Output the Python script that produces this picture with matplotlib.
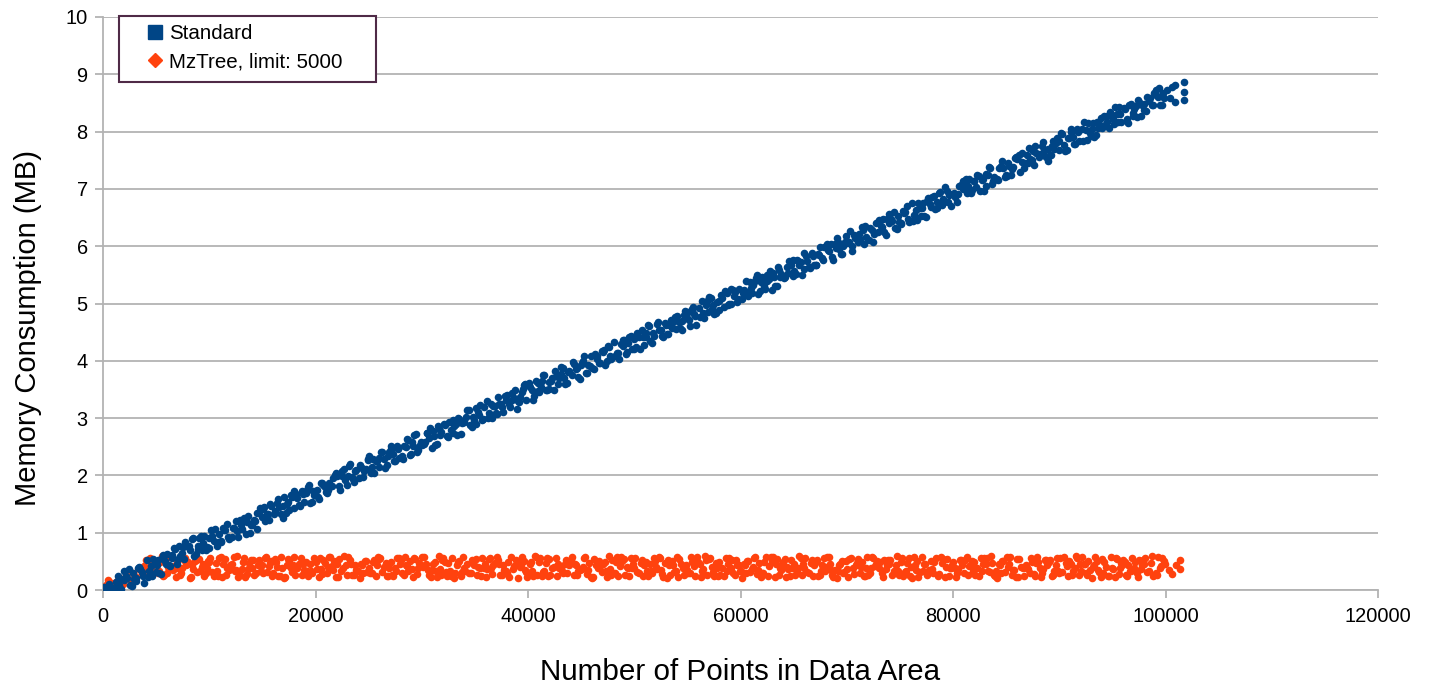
import numpy as np
import matplotlib.pyplot as plt
from matplotlib.lines import Line2D
from matplotlib.patches import Rectangle

plt.rcParams['font.family'] = ['Liberation Sans', 'DejaVu Sans']

# Standard: x in thousands of points, y in MB
std_x = [
    0.1, 0.35, 0.6, 0.9, 1.05, 1.3, 1.55, 1.8,
    2.2, 2.45, 2.7, 2.95, 3.15, 3.4, 3.65, 3.85,
    4.1, 4.35, 4.6, 4.9, 5.05, 5.3, 5.55, 5.8,
    6.2, 6.45, 6.7, 6.95, 7.15, 7.4, 7.65, 7.85,
    8.1, 8.35, 8.6, 8.9, 9.05, 9.3, 9.55, 9.8,
    10.2, 10.45, 10.7, 10.95, 11.15, 11.4, 11.65, 11.85,
    12.1, 12.35, 12.6, 12.9, 13.05, 13.3, 13.55, 13.8,
    14.2, 14.45, 14.7, 14.95, 15.15, 15.4, 15.65, 15.85,
    16.1, 16.35, 16.6, 16.9, 17.05, 17.3, 17.55, 17.8,
    18.2, 18.45, 18.7, 18.95, 19.15, 19.4, 19.65, 19.85,
    20.1, 20.35, 20.6, 20.9, 21.05, 21.3, 21.55, 21.8,
    22.2, 22.45, 22.7, 22.95, 23.15, 23.4, 23.65, 23.85,
    24.1, 24.35, 24.6, 24.9, 25.05, 25.3, 25.55, 25.8,
    26.2, 26.45, 26.7, 26.95, 27.15, 27.4, 27.65, 27.85,
    28.1, 28.35, 28.6, 28.9, 29.05, 29.3, 29.55, 29.8,
    30.2, 30.45, 30.7, 30.95, 31.15, 31.4, 31.65, 31.85,
    32.1, 32.35, 32.6, 32.9, 33.05, 33.3, 33.55, 33.8,
    34.2, 34.45, 34.7, 34.95, 35.15, 35.4, 35.65, 35.85,
    36.1, 36.35, 36.6, 36.9, 37.05, 37.3, 37.55, 37.8,
    38.2, 38.45, 38.7, 38.95, 39.15, 39.4, 39.65, 39.85,
    40.1, 40.35, 40.6, 40.9, 41.05, 41.3, 41.55, 41.8,
    42.2, 42.45, 42.7, 42.95, 43.15, 43.4, 43.65, 43.85,
    44.1, 44.35, 44.6, 44.9, 45.05, 45.3, 45.55, 45.8,
    46.2, 46.45, 46.7, 46.95, 47.15, 47.4, 47.65, 47.85,
    48.1, 48.35, 48.6, 48.9, 49.05, 49.3, 49.55, 49.8,
    50.2, 50.45, 50.7, 50.95, 51.15, 51.4, 51.65, 51.85,
    52.1, 52.35, 52.6, 52.9, 53.05, 53.3, 53.55, 53.8,
    54.2, 54.45, 54.7, 54.95, 55.15, 55.4, 55.65, 55.85,
    56.1, 56.35, 56.6, 56.9, 57.05, 57.3, 57.55, 57.8,
    58.2, 58.45, 58.7, 58.95, 59.15, 59.4, 59.65, 59.85,
    60.1, 60.35, 60.6, 60.9, 61.05, 61.3, 61.55, 61.8,
    62.2, 62.45, 62.7, 62.95, 63.15, 63.4, 63.65, 63.85,
    64.1, 64.35, 64.6, 64.9, 65.05, 65.3, 65.55, 65.8,
    66.2, 66.45, 66.7, 66.95, 67.15, 67.4, 67.65, 67.85,
    68.1, 68.35, 68.6, 68.9, 69.05, 69.3, 69.55, 69.8,
    70.2, 70.45, 70.7, 70.95, 71.15, 71.4, 71.65, 71.85,
    72.1, 72.35, 72.6, 72.9, 73.05, 73.3, 73.55, 73.8,
    74.2, 74.45, 74.7, 74.95, 75.15, 75.4, 75.65, 75.85,
    76.1, 76.35, 76.6, 76.9, 77.05, 77.3, 77.55, 77.8,
    78.2, 78.45, 78.7, 78.95, 79.15, 79.4, 79.65, 79.85,
    80.1, 80.35, 80.6, 80.9, 81.05, 81.3, 81.55, 81.8,
    82.2, 82.45, 82.7, 82.95, 83.15, 83.4, 83.65, 83.85,
    84.1, 84.35, 84.6, 84.9, 85.05, 85.3, 85.55, 85.8,
    86.2, 86.45, 86.7, 86.95, 87.15, 87.4, 87.65, 87.85,
    88.1, 88.35, 88.6, 88.9, 89.05, 89.3, 89.55, 89.8,
    90.2, 90.45, 90.7, 90.95, 91.15, 91.4, 91.65, 91.85,
    92.1, 92.35, 92.6, 92.9, 93.05, 93.3, 93.55, 93.8,
    94.2, 94.45, 94.7, 94.95, 95.15, 95.4, 95.65, 95.85,
    96.1, 96.35, 96.6, 96.9, 97.05, 97.3, 97.55, 97.8,
    98.2, 98.45, 98.7, 98.95, 99.15, 99.4, 99.65, 99.85,
    100.1, 100.4, 100.6, 100.9, 100.9, 101.7, 101.7, 101.7,
]
std_y = [
    0.05, 0.01, 0.10, 0.03, 0.02, 0.14, 0.08, 0.20,
    0.25, 0.37, 0.07, 0.19, 0.21, 0.40, 0.32, 0.13,
    0.53, 0.33, 0.24, 0.45, 0.44, 0.29, 0.56, 0.50,
    0.43, 0.61, 0.73, 0.46, 0.76, 0.64, 0.54, 0.77,
    0.77, 0.89, 0.59, 0.71, 0.90, 0.70, 0.95, 0.75,
    1.05, 0.85, 0.76, 0.97, 0.86, 1.04, 1.16, 0.89,
    0.92, 1.09, 1.03, 1.23, 1.07, 1.26, 1.18, 0.99,
    1.22, 1.07, 1.34, 1.28, 1.45, 1.33, 1.23, 1.46,
    1.33, 1.52, 1.44, 1.25, 1.62, 1.50, 1.40, 1.63,
    1.68, 1.48, 1.73, 1.53, 1.72, 1.84, 1.54, 1.66,
    1.74, 1.59, 1.86, 1.80, 1.70, 1.87, 1.81, 2.01,
    1.81, 1.99, 2.11, 1.84, 2.17, 1.97, 1.88, 2.09,
    1.96, 2.13, 2.07, 2.27, 2.34, 2.14, 2.05, 2.26,
    2.40, 2.28, 2.18, 2.41, 2.46, 2.26, 2.51, 2.31,
    2.33, 2.51, 2.63, 2.36, 2.59, 2.71, 2.41, 2.53,
    2.55, 2.74, 2.66, 2.47, 2.69, 2.54, 2.81, 2.75,
    2.89, 2.69, 2.94, 2.74, 2.86, 2.71, 2.98, 2.92,
    3.02, 3.14, 2.84, 2.96, 3.18, 3.06, 2.96, 3.19,
    3.29, 3.09, 3.00, 3.21, 3.08, 3.25, 3.19, 3.39,
    3.24, 3.43, 3.35, 3.16, 3.28, 3.46, 3.58, 3.31,
    3.61, 3.49, 3.39, 3.62, 3.46, 3.64, 3.76, 3.49,
    3.64, 3.49, 3.76, 3.70, 3.90, 3.70, 3.61, 3.82,
    3.76, 3.95, 3.87, 3.68, 3.97, 4.09, 3.79, 3.91,
    3.86, 4.03, 3.97, 4.17, 4.19, 3.99, 4.24, 4.04,
    4.33, 4.13, 4.04, 4.25, 4.36, 4.16, 4.41, 4.21,
    4.24, 4.42, 4.54, 4.27, 4.49, 4.61, 4.31, 4.43,
    4.65, 4.53, 4.43, 4.66, 4.46, 4.63, 4.57, 4.77,
    4.68, 4.53, 4.80, 4.74, 4.71, 4.90, 4.82, 4.63,
    4.92, 5.04, 4.74, 4.86, 5.11, 4.91, 4.82, 5.03,
    5.14, 4.94, 5.19, 4.99, 5.25, 5.13, 5.03, 5.26,
    5.07, 5.24, 5.18, 5.38, 5.19, 5.37, 5.49, 5.22,
    5.31, 5.50, 5.42, 5.23, 5.46, 5.31, 5.58, 5.52,
    5.45, 5.63, 5.75, 5.48, 5.57, 5.76, 5.68, 5.49,
    5.83, 5.63, 5.88, 5.68, 5.68, 5.85, 5.79, 5.99,
    6.03, 5.91, 5.81, 6.04, 6.15, 5.95, 5.86, 6.07,
    6.07, 5.92, 6.19, 6.13, 6.22, 6.34, 6.04, 6.16,
    6.11, 6.28, 6.22, 6.42, 6.46, 6.34, 6.24, 6.47,
    6.48, 6.60, 6.30, 6.42, 6.40, 6.58, 6.70, 6.43,
    6.75, 6.55, 6.46, 6.67, 6.67, 6.52, 6.79, 6.73,
    6.87, 6.67, 6.92, 6.72, 6.78, 6.97, 6.89, 6.70,
    6.93, 6.78, 7.05, 6.99, 7.13, 6.93, 7.18, 6.98,
    7.04, 7.23, 7.15, 6.96, 7.26, 7.38, 7.08, 7.20,
    7.18, 7.36, 7.48, 7.21, 7.23, 7.40, 7.34, 7.54,
    7.59, 7.47, 7.37, 7.60, 7.71, 7.51, 7.42, 7.63,
    7.56, 7.75, 7.67, 7.48, 7.58, 7.75, 7.69, 7.89,
    7.97, 7.77, 7.68, 7.89, 7.99, 7.79, 8.04, 7.84,
    8.04, 8.16, 7.86, 7.98, 8.05, 7.90, 8.17, 8.11,
    8.28, 8.16, 8.06, 8.29, 8.13, 8.31, 8.43, 8.16,
    8.42, 8.22, 8.47, 8.27, 8.40, 8.25, 8.52, 8.46,
    8.36, 8.53, 8.47, 8.67, 8.64, 8.76, 8.46, 8.58,
    8.72, 8.58, 8.78, 8.81, 8.52, 8.87, 8.69, 8.55,
]
# second pass over the Standard band (points between the ones above)
std_x_b = [
    1.18, 1.42, 1.68, 1.93,
    2.02, 2.28, 2.52, 2.78, 3.08, 3.27, 3.5, 3.72,
    4.22, 4.48, 4.75, 4.98, 5.18, 5.42, 5.68, 5.93,
    6.02, 6.28, 6.52, 6.78, 7.08, 7.27, 7.5, 7.72,
    8.22, 8.48, 8.75, 8.98, 9.18, 9.42, 9.68, 9.93,
    10.02, 10.28, 10.52, 10.78, 11.08, 11.27, 11.5, 11.72,
    12.22, 12.48, 12.75, 12.98, 13.18, 13.42, 13.68, 13.93,
    14.02, 14.28, 14.52, 14.78, 15.08, 15.27, 15.5, 15.72,
    16.22, 16.48, 16.75, 16.98, 17.18, 17.42, 17.68, 17.93,
    18.02, 18.28, 18.52, 18.78, 19.08, 19.27, 19.5, 19.72,
    20.22, 20.48, 20.75, 20.98, 21.18, 21.42, 21.68, 21.93,
    22.02, 22.28, 22.52, 22.78, 23.08, 23.27, 23.5, 23.72,
    24.22, 24.48, 24.75, 24.98, 25.18, 25.42, 25.68, 25.93,
    26.02, 26.28, 26.52, 26.78, 27.08, 27.27, 27.5, 27.72,
    28.22, 28.48, 28.75, 28.98, 29.18, 29.42, 29.68, 29.93,
    30.02, 30.28, 30.52, 30.78, 31.08, 31.27, 31.5, 31.72,
    32.22, 32.48, 32.75, 32.98, 33.18, 33.42, 33.68, 33.93,
    34.02, 34.28, 34.52, 34.78, 35.08, 35.27, 35.5, 35.72,
    36.22, 36.48, 36.75, 36.98, 37.18, 37.42, 37.68, 37.93,
    38.02, 38.28, 38.52, 38.78, 39.08, 39.27, 39.5, 39.72,
    40.22, 40.48, 40.75, 40.98, 41.18, 41.42, 41.68, 41.93,
    42.02, 42.28, 42.52, 42.78, 43.08, 43.27, 43.5, 43.72,
    44.22, 44.48, 44.75, 44.98, 45.18, 45.42, 45.68, 45.93,
    46.02, 46.28, 46.52, 46.78, 47.08, 47.27, 47.5, 47.72,
    48.22, 48.48, 48.75, 48.98, 49.18, 49.42, 49.68, 49.93,
    50.02, 50.28, 50.52, 50.78, 51.08, 51.27, 51.5, 51.72,
    52.22, 52.48, 52.75, 52.98, 53.18, 53.42, 53.68, 53.93,
    54.02, 54.28, 54.52, 54.78, 55.08, 55.27, 55.5, 55.72,
    56.22, 56.48, 56.75, 56.98, 57.18, 57.42, 57.68, 57.93,
    58.02, 58.28, 58.52, 58.78, 59.08, 59.27, 59.5, 59.72,
    60.22, 60.48, 60.75, 60.98, 61.18, 61.42, 61.68, 61.93,
    62.02, 62.28, 62.52, 62.78, 63.08, 63.27, 63.5, 63.72,
    64.22, 64.48, 64.75, 64.98, 65.18, 65.42, 65.68, 65.93,
    66.02, 66.28, 66.52, 66.78, 67.08, 67.27, 67.5, 67.72,
    68.22, 68.48, 68.75, 68.98, 69.18, 69.42, 69.68, 69.93,
    70.02, 70.28, 70.52, 70.78, 71.08, 71.27, 71.5, 71.72,
    72.22, 72.48, 72.75, 72.98, 73.18, 73.42, 73.68, 73.93,
    74.02, 74.28, 74.52, 74.78, 75.08, 75.27, 75.5, 75.72,
    76.22, 76.48, 76.75, 76.98, 77.18, 77.42, 77.68, 77.93,
    78.02, 78.28, 78.52, 78.78, 79.08, 79.27, 79.5, 79.72,
    80.22, 80.48, 80.75, 80.98, 81.18, 81.42, 81.68, 81.93,
    82.02, 82.28, 82.52, 82.78, 83.08, 83.27, 83.5, 83.72,
    84.22, 84.48, 84.75, 84.98, 85.18, 85.42, 85.68, 85.93,
    86.02, 86.28, 86.52, 86.78, 87.08, 87.27, 87.5, 87.72,
    88.22, 88.48, 88.75, 88.98, 89.18, 89.42, 89.68, 89.93,
    90.02, 90.28, 90.52, 90.78, 91.08, 91.27, 91.5, 91.72,
    92.22, 92.48, 92.75, 92.98, 93.18, 93.42, 93.68, 93.93,
    94.02, 94.28, 94.52, 94.78, 95.08, 95.27, 95.5, 95.72,
    96.22, 96.48, 96.75, 96.98, 97.18, 97.42, 97.68, 97.93,
    98.02, 98.28, 98.52, 98.78, 99.08, 99.27, 99.5, 99.72,
]
std_y_b = [
    0.14, 0.25, 0.02, 0.18,
    0.34, 0.21, 0.08, 0.29, 0.15, 0.39, 0.36, 0.24,
    0.22, 0.42, 0.54, 0.31, 0.52, 0.28, 0.61, 0.45,
    0.63, 0.42, 0.55, 0.72, 0.54, 0.60, 0.75, 0.83,
    0.69, 0.90, 0.63, 0.77, 0.95, 0.82, 0.69, 0.90,
    0.74, 0.94, 1.06, 0.83, 0.84, 1.08, 1.05, 0.93,
    1.09, 1.20, 0.92, 1.13, 1.21, 0.97, 1.30, 1.14,
    1.14, 1.20, 1.35, 1.43, 1.41, 1.20, 1.33, 1.50,
    1.38, 1.59, 1.32, 1.46, 1.34, 1.54, 1.66, 1.43,
    1.73, 1.60, 1.47, 1.68, 1.69, 1.80, 1.52, 1.73,
    1.62, 1.86, 1.83, 1.71, 1.75, 1.81, 1.96, 2.04,
    1.99, 1.75, 2.08, 1.92, 1.99, 2.20, 1.93, 2.07,
    2.19, 1.98, 2.11, 2.28, 2.05, 2.29, 2.26, 2.14,
    2.30, 2.41, 2.13, 2.34, 2.51, 2.38, 2.25, 2.46,
    2.29, 2.49, 2.61, 2.38, 2.51, 2.72, 2.45, 2.59,
    2.53, 2.59, 2.74, 2.82, 2.77, 2.53, 2.86, 2.70,
    2.88, 2.67, 2.80, 2.97, 2.90, 3.01, 2.73, 2.94,
    2.94, 3.15, 2.88, 3.02, 2.90, 3.10, 3.22, 2.99,
    3.00, 3.24, 3.21, 3.09, 3.37, 3.24, 3.11, 3.32,
    3.40, 3.19, 3.32, 3.49, 3.30, 3.36, 3.51, 3.59,
    3.55, 3.31, 3.64, 3.48, 3.55, 3.76, 3.49, 3.63,
    3.50, 3.70, 3.82, 3.59, 3.77, 3.88, 3.60, 3.81,
    3.98, 3.85, 3.72, 3.93, 4.00, 3.79, 3.92, 4.09,
    3.87, 4.11, 4.08, 3.96, 4.16, 3.92, 4.25, 4.09,
    4.08, 4.14, 4.29, 4.37, 4.11, 4.31, 4.43, 4.20,
    4.38, 4.49, 4.21, 4.42, 4.41, 4.62, 4.35, 4.49,
    4.67, 4.54, 4.41, 4.62, 4.47, 4.71, 4.68, 4.56,
    4.78, 4.57, 4.70, 4.87, 4.85, 4.61, 4.94, 4.78,
    4.77, 4.83, 4.98, 5.06, 5.10, 4.97, 4.84, 5.05,
    4.89, 5.09, 5.21, 4.98, 4.99, 5.23, 5.20, 5.08,
    5.19, 5.40, 5.13, 5.27, 5.33, 5.44, 5.16, 5.37,
    5.47, 5.26, 5.39, 5.56, 5.54, 5.30, 5.63, 5.47,
    5.47, 5.53, 5.68, 5.76, 5.51, 5.75, 5.72, 5.60,
    5.88, 5.75, 5.62, 5.83, 5.67, 5.87, 5.99, 5.76,
    5.93, 6.04, 5.76, 5.97, 6.08, 5.87, 6.00, 6.17,
    6.06, 6.27, 6.00, 6.14, 6.07, 6.13, 6.28, 6.36,
    6.32, 6.08, 6.41, 6.25, 6.36, 6.47, 6.19, 6.40,
    6.57, 6.44, 6.31, 6.52, 6.38, 6.62, 6.59, 6.47,
    6.44, 6.64, 6.76, 6.53, 6.75, 6.51, 6.84, 6.68,
    6.86, 6.65, 6.78, 6.95, 6.83, 7.04, 6.77, 6.91,
    6.85, 6.91, 7.06, 7.14, 7.18, 7.05, 6.92, 7.13,
    7.14, 7.25, 6.97, 7.18, 7.05, 7.25, 7.37, 7.14,
    7.16, 7.40, 7.37, 7.25, 7.46, 7.25, 7.38, 7.55,
    7.53, 7.29, 7.62, 7.46, 7.46, 7.52, 7.67, 7.75,
    7.61, 7.82, 7.55, 7.69, 7.59, 7.83, 7.80, 7.68,
    7.84, 7.95, 7.67, 7.88, 8.04, 7.91, 7.78, 7.99,
    7.83, 8.03, 8.15, 7.92, 8.15, 7.94, 8.07, 8.24,
    8.06, 8.12, 8.27, 8.35, 8.22, 8.43, 8.16, 8.30,
    8.39, 8.15, 8.48, 8.32, 8.44, 8.55, 8.27, 8.48,
    8.37, 8.61, 8.58, 8.46, 8.73, 8.60, 8.47, 8.68,
]

# MzTree, limit 5000: x in thousands of points, y in MB
mz_x = [
    0.3, 0.5, 0.8, 1.0, 1.3, 1.6, 1.9,
    2.2, 2.5, 2.8, 3.1, 3.4, 3.7, 3.9,
    4.0, 4.3, 4.5, 4.75, 5.15, 5.4, 5.65, 5.9,
    6.1, 6.25, 6.6, 6.85, 7.2, 7.45, 7.7, 7.95,
    8.0, 8.3, 8.5, 8.75, 9.15, 9.4, 9.65, 9.9,
    10.1, 10.25, 10.6, 10.85, 11.2, 11.45, 11.7, 11.95,
    12.0, 12.3, 12.5, 12.75, 13.15, 13.4, 13.65, 13.9,
    14.1, 14.25, 14.6, 14.85, 15.2, 15.45, 15.7, 15.95,
    16.0, 16.3, 16.5, 16.75, 17.15, 17.4, 17.65, 17.9,
    18.1, 18.25, 18.6, 18.85, 19.2, 19.45, 19.7, 19.95,
    20.0, 20.3, 20.5, 20.75, 21.15, 21.4, 21.65, 21.9,
    22.1, 22.25, 22.6, 22.85, 23.2, 23.45, 23.7, 23.95,
    24.0, 24.3, 24.5, 24.75, 25.15, 25.4, 25.65, 25.9,
    26.1, 26.25, 26.6, 26.85, 27.2, 27.45, 27.7, 27.95,
    28.0, 28.3, 28.5, 28.75, 29.15, 29.4, 29.65, 29.9,
    30.1, 30.25, 30.6, 30.85, 31.2, 31.45, 31.7, 31.95,
    32.0, 32.3, 32.5, 32.75, 33.15, 33.4, 33.65, 33.9,
    34.1, 34.25, 34.6, 34.85, 35.2, 35.45, 35.7, 35.95,
    36.0, 36.3, 36.5, 36.75, 37.15, 37.4, 37.65, 37.9,
    38.1, 38.25, 38.6, 38.85, 39.2, 39.45, 39.7, 39.95,
    40.0, 40.3, 40.5, 40.75, 41.15, 41.4, 41.65, 41.9,
    42.1, 42.25, 42.6, 42.85, 43.2, 43.45, 43.7, 43.95,
    44.0, 44.3, 44.5, 44.75, 45.15, 45.4, 45.65, 45.9,
    46.1, 46.25, 46.6, 46.85, 47.2, 47.45, 47.7, 47.95,
    48.0, 48.3, 48.5, 48.75, 49.15, 49.4, 49.65, 49.9,
    50.1, 50.25, 50.6, 50.85, 51.2, 51.45, 51.7, 51.95,
    52.0, 52.3, 52.5, 52.75, 53.15, 53.4, 53.65, 53.9,
    54.1, 54.25, 54.6, 54.85, 55.2, 55.45, 55.7, 55.95,
    56.0, 56.3, 56.5, 56.75, 57.15, 57.4, 57.65, 57.9,
    58.1, 58.25, 58.6, 58.85, 59.2, 59.45, 59.7, 59.95,
    60.0, 60.3, 60.5, 60.75, 61.15, 61.4, 61.65, 61.9,
    62.1, 62.25, 62.6, 62.85, 63.2, 63.45, 63.7, 63.95,
    64.0, 64.3, 64.5, 64.75, 65.15, 65.4, 65.65, 65.9,
    66.1, 66.25, 66.6, 66.85, 67.2, 67.45, 67.7, 67.95,
    68.0, 68.3, 68.5, 68.75, 69.15, 69.4, 69.65, 69.9,
    70.1, 70.25, 70.6, 70.85, 71.2, 71.45, 71.7, 71.95,
    72.0, 72.3, 72.5, 72.75, 73.15, 73.4, 73.65, 73.9,
    74.1, 74.25, 74.6, 74.85, 75.2, 75.45, 75.7, 75.95,
    76.0, 76.3, 76.5, 76.75, 77.15, 77.4, 77.65, 77.9,
    78.1, 78.25, 78.6, 78.85, 79.2, 79.45, 79.7, 79.95,
    80.0, 80.3, 80.5, 80.75, 81.15, 81.4, 81.65, 81.9,
    82.1, 82.25, 82.6, 82.85, 83.2, 83.45, 83.7, 83.95,
    84.0, 84.3, 84.5, 84.75, 85.15, 85.4, 85.65, 85.9,
    86.1, 86.25, 86.6, 86.85, 87.2, 87.45, 87.7, 87.95,
    88.0, 88.3, 88.5, 88.75, 89.15, 89.4, 89.65, 89.9,
    90.1, 90.25, 90.6, 90.85, 91.2, 91.45, 91.7, 91.95,
    92.0, 92.3, 92.5, 92.75, 93.15, 93.4, 93.65, 93.9,
    94.1, 94.25, 94.6, 94.85, 95.2, 95.45, 95.7, 95.95,
    96.0, 96.3, 96.5, 96.75, 97.15, 97.4, 97.65, 97.9,
    98.1, 98.25, 98.6, 98.85, 99.2, 99.45, 99.7, 99.95,
    100.3, 100.6, 101.0, 101.4, 101.4,
]
mz_y = [
    0.08, 0.18, 0.12, 0.05, 0.15, 0.20, 0.10,
    0.26, 0.18, 0.30, 0.22, 0.36, 0.30, 0.42,
    0.52, 0.27, 0.44, 0.33, 0.30, 0.49, 0.24, 0.57,
    0.41, 0.58, 0.35, 0.23, 0.26, 0.38, 0.55, 0.46,
    0.48, 0.22, 0.36, 0.53, 0.34, 0.45, 0.29, 0.50,
    0.56, 0.31, 0.47, 0.25, 0.23, 0.54, 0.39, 0.43,
    0.41, 0.58, 0.35, 0.23, 0.48, 0.22, 0.36, 0.53,
    0.52, 0.27, 0.44, 0.33, 0.56, 0.31, 0.47, 0.25,
    0.30, 0.49, 0.24, 0.57, 0.23, 0.54, 0.39, 0.43,
    0.26, 0.38, 0.55, 0.46, 0.34, 0.45, 0.29, 0.50,
    0.48, 0.22, 0.36, 0.53, 0.41, 0.58, 0.35, 0.23,
    0.23, 0.54, 0.39, 0.43, 0.52, 0.27, 0.44, 0.33,
    0.34, 0.45, 0.29, 0.50, 0.30, 0.49, 0.24, 0.57,
    0.56, 0.31, 0.47, 0.25, 0.26, 0.38, 0.55, 0.46,
    0.52, 0.27, 0.44, 0.33, 0.23, 0.54, 0.39, 0.43,
    0.41, 0.58, 0.35, 0.23, 0.48, 0.22, 0.36, 0.53,
    0.56, 0.31, 0.47, 0.25, 0.30, 0.49, 0.24, 0.57,
    0.34, 0.45, 0.29, 0.50, 0.26, 0.38, 0.55, 0.46,
    0.23, 0.54, 0.39, 0.43, 0.52, 0.27, 0.44, 0.33,
    0.48, 0.22, 0.36, 0.53, 0.41, 0.58, 0.35, 0.23,
    0.30, 0.49, 0.24, 0.57, 0.56, 0.31, 0.47, 0.25,
    0.26, 0.38, 0.55, 0.46, 0.34, 0.45, 0.29, 0.50,
    0.52, 0.27, 0.44, 0.33, 0.41, 0.58, 0.35, 0.23,
    0.23, 0.54, 0.39, 0.43, 0.48, 0.22, 0.36, 0.53,
    0.30, 0.49, 0.24, 0.57, 0.26, 0.38, 0.55, 0.46,
    0.56, 0.31, 0.47, 0.25, 0.34, 0.45, 0.29, 0.50,
    0.41, 0.58, 0.35, 0.23, 0.52, 0.27, 0.44, 0.33,
    0.23, 0.54, 0.39, 0.43, 0.30, 0.49, 0.24, 0.57,
    0.48, 0.22, 0.36, 0.53, 0.56, 0.31, 0.47, 0.25,
    0.26, 0.38, 0.55, 0.46, 0.52, 0.27, 0.44, 0.33,
    0.34, 0.45, 0.29, 0.50, 0.41, 0.58, 0.35, 0.23,
    0.30, 0.49, 0.24, 0.57, 0.23, 0.54, 0.39, 0.43,
    0.48, 0.22, 0.36, 0.53, 0.26, 0.38, 0.55, 0.46,
    0.56, 0.31, 0.47, 0.25, 0.52, 0.27, 0.44, 0.33,
    0.41, 0.58, 0.35, 0.23, 0.34, 0.45, 0.29, 0.50,
    0.23, 0.54, 0.39, 0.43, 0.30, 0.49, 0.24, 0.57,
    0.26, 0.38, 0.55, 0.46, 0.48, 0.22, 0.36, 0.53,
    0.52, 0.27, 0.44, 0.33, 0.56, 0.31, 0.47, 0.25,
    0.41, 0.58, 0.35, 0.23, 0.34, 0.45, 0.29, 0.50,
    0.30, 0.49, 0.24, 0.57, 0.23, 0.54, 0.39, 0.43,
    0.48, 0.22, 0.36, 0.53, 0.52, 0.27, 0.44, 0.33,
    0.26, 0.38, 0.55, 0.46, 0.56, 0.31, 0.47, 0.25,
    0.34, 0.45, 0.29, 0.50, 0.41, 0.58, 0.35, 0.23,
    0.23, 0.54, 0.39, 0.43, 0.30, 0.49, 0.24, 0.57,
    0.48, 0.22, 0.36, 0.53, 0.52, 0.27, 0.44, 0.33,
    0.56, 0.31, 0.47, 0.25, 0.26, 0.38, 0.55, 0.46,
    0.34, 0.45, 0.29, 0.50, 0.41, 0.58, 0.35, 0.23,
    0.30, 0.49, 0.24, 0.57, 0.23, 0.54, 0.39, 0.43,
    0.52, 0.27, 0.44, 0.33, 0.48, 0.22, 0.36, 0.53,
    0.56, 0.31, 0.47, 0.25, 0.26, 0.38, 0.55, 0.46,
    0.35, 0.28, 0.44, 0.52, 0.37,
]
# second pass over the MzTree band
mz_x_b = [
    4.15, 4.4, 4.62, 4.88, 5.05, 5.28, 5.52, 5.78,
    6.0, 6.42, 6.72, 6.95, 7.08, 7.32, 7.58, 7.82,
    8.15, 8.4, 8.62, 8.88, 9.05, 9.28, 9.52, 9.78,
    10.0, 10.42, 10.72, 10.95, 11.08, 11.32, 11.58, 11.82,
    12.15, 12.4, 12.62, 12.88, 13.05, 13.28, 13.52, 13.78,
    14.0, 14.42, 14.72, 14.95, 15.08, 15.32, 15.58, 15.82,
    16.15, 16.4, 16.62, 16.88, 17.05, 17.28, 17.52, 17.78,
    18.0, 18.42, 18.72, 18.95, 19.08, 19.32, 19.58, 19.82,
    20.15, 20.4, 20.62, 20.88, 21.05, 21.28, 21.52, 21.78,
    22.0, 22.42, 22.72, 22.95, 23.08, 23.32, 23.58, 23.82,
    24.15, 24.4, 24.62, 24.88, 25.05, 25.28, 25.52, 25.78,
    26.0, 26.42, 26.72, 26.95, 27.08, 27.32, 27.58, 27.82,
    28.15, 28.4, 28.62, 28.88, 29.05, 29.28, 29.52, 29.78,
    30.0, 30.42, 30.72, 30.95, 31.08, 31.32, 31.58, 31.82,
    32.15, 32.4, 32.62, 32.88, 33.05, 33.28, 33.52, 33.78,
    34.0, 34.42, 34.72, 34.95, 35.08, 35.32, 35.58, 35.82,
    36.15, 36.4, 36.62, 36.88, 37.05, 37.28, 37.52, 37.78,
    38.0, 38.42, 38.72, 38.95, 39.08, 39.32, 39.58, 39.82,
    40.15, 40.4, 40.62, 40.88, 41.05, 41.28, 41.52, 41.78,
    42.0, 42.42, 42.72, 42.95, 43.08, 43.32, 43.58, 43.82,
    44.15, 44.4, 44.62, 44.88, 45.05, 45.28, 45.52, 45.78,
    46.0, 46.42, 46.72, 46.95, 47.08, 47.32, 47.58, 47.82,
    48.15, 48.4, 48.62, 48.88, 49.05, 49.28, 49.52, 49.78,
    50.0, 50.42, 50.72, 50.95, 51.08, 51.32, 51.58, 51.82,
    52.15, 52.4, 52.62, 52.88, 53.05, 53.28, 53.52, 53.78,
    54.0, 54.42, 54.72, 54.95, 55.08, 55.32, 55.58, 55.82,
    56.15, 56.4, 56.62, 56.88, 57.05, 57.28, 57.52, 57.78,
    58.0, 58.42, 58.72, 58.95, 59.08, 59.32, 59.58, 59.82,
    60.15, 60.4, 60.62, 60.88, 61.05, 61.28, 61.52, 61.78,
    62.0, 62.42, 62.72, 62.95, 63.08, 63.32, 63.58, 63.82,
    64.15, 64.4, 64.62, 64.88, 65.05, 65.28, 65.52, 65.78,
    66.0, 66.42, 66.72, 66.95, 67.08, 67.32, 67.58, 67.82,
    68.15, 68.4, 68.62, 68.88, 69.05, 69.28, 69.52, 69.78,
    70.0, 70.42, 70.72, 70.95, 71.08, 71.32, 71.58, 71.82,
    72.15, 72.4, 72.62, 72.88, 73.05, 73.28, 73.52, 73.78,
    74.0, 74.42, 74.72, 74.95, 75.08, 75.32, 75.58, 75.82,
    76.15, 76.4, 76.62, 76.88, 77.05, 77.28, 77.52, 77.78,
    78.0, 78.42, 78.72, 78.95, 79.08, 79.32, 79.58, 79.82,
    80.15, 80.4, 80.62, 80.88, 81.05, 81.28, 81.52, 81.78,
    82.0, 82.42, 82.72, 82.95, 83.08, 83.32, 83.58, 83.82,
    84.15, 84.4, 84.62, 84.88, 85.05, 85.28, 85.52, 85.78,
    86.0, 86.42, 86.72, 86.95, 87.08, 87.32, 87.58, 87.82,
    88.15, 88.4, 88.62, 88.88, 89.05, 89.28, 89.52, 89.78,
    90.0, 90.42, 90.72, 90.95, 91.08, 91.32, 91.58, 91.82,
    92.15, 92.4, 92.62, 92.88, 93.05, 93.28, 93.52, 93.78,
    94.0, 94.42, 94.72, 94.95, 95.08, 95.32, 95.58, 95.82,
    96.15, 96.4, 96.62, 96.88, 97.05, 97.28, 97.52, 97.78,
    98.0, 98.42, 98.72, 98.95, 99.08, 99.32, 99.58, 99.82,
]
mz_y_b = [
    0.37, 0.55, 0.28, 0.47, 0.45, 0.34, 0.59, 0.27,
    0.29, 0.57, 0.42, 0.50, 0.39, 0.30, 0.52, 0.44,
    0.21, 0.43, 0.51, 0.32, 0.54, 0.40, 0.25, 0.38,
    0.49, 0.24, 0.33, 0.56, 0.58, 0.46, 0.26, 0.35,
    0.45, 0.34, 0.59, 0.27, 0.37, 0.55, 0.28, 0.47,
    0.39, 0.30, 0.52, 0.44, 0.29, 0.57, 0.42, 0.50,
    0.54, 0.40, 0.25, 0.38, 0.21, 0.43, 0.51, 0.32,
    0.58, 0.46, 0.26, 0.35, 0.49, 0.24, 0.33, 0.56,
    0.37, 0.55, 0.28, 0.47, 0.29, 0.57, 0.42, 0.50,
    0.45, 0.34, 0.59, 0.27, 0.58, 0.46, 0.26, 0.35,
    0.21, 0.43, 0.51, 0.32, 0.39, 0.30, 0.52, 0.44,
    0.54, 0.40, 0.25, 0.38, 0.49, 0.24, 0.33, 0.56,
    0.29, 0.57, 0.42, 0.50, 0.37, 0.55, 0.28, 0.47,
    0.58, 0.46, 0.26, 0.35, 0.45, 0.34, 0.59, 0.27,
    0.49, 0.24, 0.33, 0.56, 0.21, 0.43, 0.51, 0.32,
    0.39, 0.30, 0.52, 0.44, 0.54, 0.40, 0.25, 0.38,
    0.37, 0.55, 0.28, 0.47, 0.58, 0.46, 0.26, 0.35,
    0.29, 0.57, 0.42, 0.50, 0.21, 0.43, 0.51, 0.32,
    0.45, 0.34, 0.59, 0.27, 0.49, 0.24, 0.33, 0.56,
    0.54, 0.40, 0.25, 0.38, 0.39, 0.30, 0.52, 0.44,
    0.58, 0.46, 0.26, 0.35, 0.37, 0.55, 0.28, 0.47,
    0.21, 0.43, 0.51, 0.32, 0.45, 0.34, 0.59, 0.27,
    0.29, 0.57, 0.42, 0.50, 0.54, 0.40, 0.25, 0.38,
    0.39, 0.30, 0.52, 0.44, 0.49, 0.24, 0.33, 0.56,
    0.37, 0.55, 0.28, 0.47, 0.21, 0.43, 0.51, 0.32,
    0.58, 0.46, 0.26, 0.35, 0.29, 0.57, 0.42, 0.50,
    0.45, 0.34, 0.59, 0.27, 0.54, 0.40, 0.25, 0.38,
    0.49, 0.24, 0.33, 0.56, 0.39, 0.30, 0.52, 0.44,
    0.21, 0.43, 0.51, 0.32, 0.37, 0.55, 0.28, 0.47,
    0.29, 0.57, 0.42, 0.50, 0.58, 0.46, 0.26, 0.35,
    0.54, 0.40, 0.25, 0.38, 0.45, 0.34, 0.59, 0.27,
    0.39, 0.30, 0.52, 0.44, 0.49, 0.24, 0.33, 0.56,
    0.58, 0.46, 0.26, 0.35, 0.21, 0.43, 0.51, 0.32,
    0.37, 0.55, 0.28, 0.47, 0.54, 0.40, 0.25, 0.38,
    0.29, 0.57, 0.42, 0.50, 0.39, 0.30, 0.52, 0.44,
    0.45, 0.34, 0.59, 0.27, 0.49, 0.24, 0.33, 0.56,
    0.21, 0.43, 0.51, 0.32, 0.58, 0.46, 0.26, 0.35,
    0.37, 0.55, 0.28, 0.47, 0.54, 0.40, 0.25, 0.38,
    0.39, 0.30, 0.52, 0.44, 0.29, 0.57, 0.42, 0.50,
    0.49, 0.24, 0.33, 0.56, 0.45, 0.34, 0.59, 0.27,
    0.21, 0.43, 0.51, 0.32, 0.58, 0.46, 0.26, 0.35,
    0.54, 0.40, 0.25, 0.38, 0.37, 0.55, 0.28, 0.47,
    0.39, 0.30, 0.52, 0.44, 0.49, 0.24, 0.33, 0.56,
    0.29, 0.57, 0.42, 0.50, 0.45, 0.34, 0.59, 0.27,
    0.58, 0.46, 0.26, 0.35, 0.21, 0.43, 0.51, 0.32,
    0.54, 0.40, 0.25, 0.38, 0.37, 0.55, 0.28, 0.47,
    0.49, 0.24, 0.33, 0.56, 0.39, 0.30, 0.52, 0.44,
    0.45, 0.34, 0.59, 0.27, 0.29, 0.57, 0.42, 0.50,
]

series_names = ['Standard', 'MzTree, limit: 5000']
colors = ['#004586', '#ff420e']
x_ticks = [0, 20000, 40000, 60000, 80000, 100000, 120000]
y_ticks = [0, 1, 2, 3, 4, 5, 6, 7, 8, 9, 10]

W, H = 1431, 686
fig = plt.figure(figsize=(W / 100, H / 100), dpi=100)
ax = fig.add_axes([103 / W, 1 - 590 / H, 1275 / W, 573 / H])

mz_all_x = np.array(mz_x + mz_x_b) * 1000
mz_all_y = np.array(mz_y + mz_y_b)
std_all_x = np.array(std_x + std_x_b) * 1000
std_all_y = np.array(std_y + std_y_b)

# MzTree first, Standard drawn over it
ax.scatter(mz_all_x, mz_all_y, marker='o', s=30, color=colors[1], linewidths=0, zorder=3)
ax.scatter(std_all_x, std_all_y, marker='o', s=30, color=colors[0], linewidths=0, zorder=3)

ax.set_xlim(0, 120000)
ax.set_ylim(0, 10)
ax.set_xticks(x_ticks)
ax.set_xticklabels([str(t) for t in x_ticks])
ax.set_yticks(y_ticks)
ax.set_yticklabels([str(t) for t in y_ticks])

grid_col = '#b3b3b3'
ax.yaxis.grid(True, color=grid_col, linewidth=1.3)
ax.set_axisbelow(True)
for side in ['top', 'right']:
    ax.spines[side].set_visible(False)
for side in ['left', 'bottom']:
    ax.spines[side].set_color(grid_col)
    ax.spines[side].set_linewidth(1.3)
ax.tick_params(axis='x', color=grid_col, length=6, width=1.3, labelsize=14.4, pad=6)
ax.tick_params(axis='y', color=grid_col, length=5.5, width=1.3, labelsize=14.4, pad=5.5)

fig.text(28 / W, 1 - 328 / H, 'Memory Consumption (MB)', rotation=90,
         ha='center', va='center', fontsize=21)
fig.text(740 / W, 1 - 672 / H, 'Number of Points in Data Area',
         ha='center', va='center', fontsize=21.3)

# legend box
box = Rectangle((119 / W, 1 - 82 / H), 257 / W, 66 / H, transform=fig.transFigure,
                facecolor='white', edgecolor='#4f2a47', linewidth=1.5, zorder=5)
fig.patches.append(box)
handles = [
    Line2D([], [], marker='s', ls='', color=colors[0], markersize=10),
    Line2D([], [], marker='D', ls='', color=colors[1], markersize=7.5),
]
leg = fig.legend(handles, series_names, loc='upper left',
                 bbox_to_anchor=(148 / W, 1 - 24 / H), frameon=False,
                 borderpad=0, borderaxespad=0, handlelength=0.7,
                 handletextpad=0.31, labelspacing=0.45, fontsize=14.8)
leg.set_zorder(6)

fig.savefig('out.png', dpi=100)
